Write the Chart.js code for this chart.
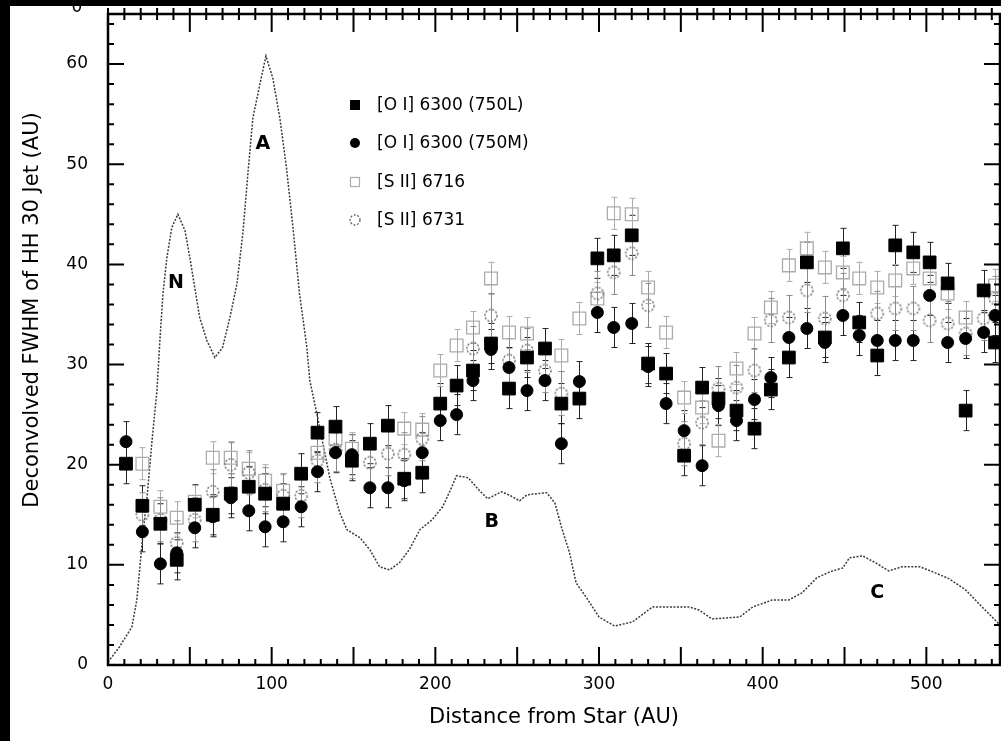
<!DOCTYPE html>
<html>
<head>
<meta charset="utf-8">
<script src="https://cdn.jsdelivr.net/npm/chart.js@4.4.0/dist/chart.umd.min.js"></script>
<style>
    html, body { margin: 0; padding: 0; background: #fff; }
    #wrap { width: 1001px; height: 741px; }
</style>
</head>
<body>
<div id="wrap"><canvas id="fwhm-chart" width="1001" height="741"></canvas></div>
<script>
// distance of each measured slit position (AU)
var distAU = [11, 21, 32, 42, 53, 64, 75, 86, 96, 107, 118, 128, 139, 149, 160, 171, 181, 192, 203, 213,
              223, 234, 245, 256, 267, 277, 288, 299, 309, 320, 330, 341, 352, 363, 373, 384, 395, 405, 416, 427,
              438, 449, 459, 470, 481, 492, 502, 513, 524, 535, 542];

var oi6300L = [20.1, 15.9, 14.1, 10.5, 16.0, 15.0, 17.1, 17.8, 17.1, 16.1, 19.1, 23.2, 23.8, 20.4, 22.1, 23.9, 18.6, 19.2, 26.1, 27.9,
               29.4, 32.1, 27.6, 30.7, 31.6, 26.1, 26.6, 40.6, 40.9, 42.9, 30.1, 29.1, 20.9, 27.7, 26.6, 25.4, 23.6, 27.5, 30.7, 40.2,
               32.7, 41.6, 34.2, 30.9, 41.9, 41.2, 40.2, 38.1, 25.4, 37.4, 32.2];

var oi6300M = [22.3, 13.3, 10.1, 11.2, 13.7, 14.8, 16.7, 15.4, 13.8, 14.3, 15.8, 19.3, 21.2, 21.0, 17.7, 17.7, 18.4, 21.2, 24.4, 25.0,
               28.4, 31.5, 29.7, 27.4, 28.4, 22.1, 28.3, 35.2, 33.7, 34.1, 29.8, 26.1, 23.4, 19.9, 25.9, 24.4, 26.5, 28.7, 32.7, 33.6,
               32.2, 34.9, 32.9, 32.4, 32.4, 32.4, 36.9, 32.2, 32.6, 33.2, 34.9];

var sii6716 = [null, 20.1, 15.8, 14.7, 16.3, 20.7, 20.7, 19.6, 18.4, 17.4, null, 21.2, 22.6, 21.6, null, null, 23.6, 23.5, 29.4, 31.9,
               33.7, 38.6, 33.2, 33.1, null, 30.9, 34.6, 36.6, 45.1, 45.0, 37.7, 33.2, 26.7, 25.7, 22.4, 29.6, 33.1, 35.7, 39.9, 41.6,
               39.7, 39.2, 38.6, 37.7, 38.4, 39.6, 38.6, 37.1, 34.7, null, 37.9];

var sii6731 = [null, 15.0, 14.5, 12.2, 14.5, 17.3, 20.0, 19.2, 17.5, 16.9, 16.9, 20.4, 21.5, 20.8, 20.2, 21.1, 21.0, 22.6, null, null,
               31.6, 34.9, 30.4, 31.4, 29.4, 27.1, null, 37.1, 39.2, 41.1, 35.9, null, 22.1, 24.2, 27.6, 27.7, 29.4, 34.4, 34.7, 37.4,
               34.6, 36.9, null, 35.1, 35.6, 35.6, 34.4, 34.1, 33.1, 34.6, 36.6];

// typical 1-sigma error of each line
var errL = 2.0, errM = 2.0, err6716 = 1.6, err6731 = 2.2;

// continuum-subtracted intensity profile (dotted curve)
var profX = [0, 7, 14.6, 17.6, 19.5, 21.4, 23.7, 26.9, 29.9, 31.7, 33.6, 36, 39, 42.7, 47, 50, 53, 56, 60.4, 65.3,
             70, 74.5, 78.8, 82.4, 85.5, 88.5, 92.8, 96.5, 100.7, 105, 109, 113, 117, 121.5, 123.3, 127.6, 130.6, 135.5, 141.6, 146,
             154, 160, 166, 172, 178, 184, 190.5, 198, 204.5, 209, 213, 220, 227, 232, 240.5, 246, 251.5, 256, 268, 273,
             277, 282, 286, 292, 300, 309.5, 320.5, 332.7, 345, 355, 361, 369, 386, 394, 406, 416, 424, 433, 441, 449,
             453, 461, 469, 477, 485, 496, 504, 514, 524, 534, 545];
var profY = [0.3, 1.8, 3.8, 6.5, 9.8, 13.2, 16.5, 22.4, 27.4, 32.4, 37.1, 40.7, 43.7, 45.0, 43.4, 40.7, 37.7, 34.7, 32.4, 30.7,
             31.7, 34.7, 38.1, 43.1, 49.1, 54.6, 58, 60.8, 58.6, 54.6, 49.7, 43.7, 37.1, 31.7, 28.4, 25.1, 22.7, 18.7, 15.2, 13.5,
             12.7, 11.5, 9.8, 9.5, 10.2, 11.5, 13.5, 14.5, 15.8, 17.4, 18.9, 18.7, 17.4, 16.6, 17.3, 16.9, 16.4, 17.0, 17.2, 16.2,
             13.8, 11.2, 8.2, 6.8, 4.8, 3.9, 4.3, 5.8, 5.8, 5.8, 5.5, 4.6, 4.8, 5.8, 6.5, 6.5, 7.2, 8.7, 9.3, 9.7,
             10.7, 10.9, 10.2, 9.4, 9.8, 9.8, 9.3, 8.6, 7.5, 5.8, 4.0];

var knotNames = ["N", "A", "B", "C"];
var knotX = [41.5, 94.6, 234.4, 470];
var knotY = [38.1, 52.0, 14.3, 7.2];

var xTicks = [0, 100, 200, 300, 400, 500];
var yTicks = [0, 10, 20, 30, 40, 50, 60];

var yTitle = "Deconvolved FWHM of HH 30 Jet (AU)";
var xTitle = "Distance from Star (AU)";

function toPoints(xs, ys) {
    var pts = [];
    for (var i = 0; i < xs.length; i++) {
        if (ys[i] !== null) pts.push({x: xs[i], y: ys[i]});
    }
    return pts;
}

// small dotted ring used as the [S II] 6731 marker
function dottedRing(r, color) {
    var c = document.createElement('canvas');
    var s = Math.ceil(r * 2 + 4);
    c.width = s; c.height = s;
    var g = c.getContext('2d');
    g.strokeStyle = color;
    g.lineWidth = 1.4;
    g.setLineDash([2, 1.6]);
    g.beginPath();
    g.arc(s / 2, s / 2, r, 0, Math.PI * 2);
    g.stroke();
    return c;
}

function noPad(scale) {
    scale.paddingTop = 0;
    scale.paddingBottom = 0;
    scale.paddingLeft = 0;
    scale.paddingRight = 0;
}

var fontName = "'DejaVu Sans', sans-serif";
var ringMark = dottedRing(6, '#6e6e6e');
var ringLegend = dottedRing(5, '#6e6e6e');

var plotDecor = {
    id: 'plotDecor',
    beforeDraw: function(chart) {
        var ctx = chart.ctx;
        ctx.save();
        ctx.fillStyle = '#000';
        ctx.fillRect(0, 0, 10, chart.height);
        ctx.fillRect(0, 0, chart.width, 6);
        // cut-off label of the panel above
        ctx.beginPath();
        ctx.rect(0, 6, chart.width, 20);
        ctx.clip();
        ctx.font = '17px ' + fontName;
        ctx.textAlign = 'center';
        ctx.textBaseline = 'middle';
        ctx.fillText("0", 77, 8);
        ctx.restore();
    },
    beforeDatasetsDraw: function(chart) {
        var ctx = chart.ctx;
        var area = chart.chartArea;
        var yScale = chart.scales.y;
        ctx.save();
        ctx.beginPath();
        ctx.rect(area.left, area.top, area.right - area.left, area.bottom - area.top);
        ctx.clip();
        chart.data.datasets.forEach(function(ds, i) {
            if (!ds.errBar) return;
            var meta = chart.getDatasetMeta(i);
            ctx.strokeStyle = ds.errColor;
            ctx.lineWidth = 1;
            meta.data.forEach(function(pt, j) {
                var v = ds.data[j].y;
                var top = yScale.getPixelForValue(v + ds.errBar);
                var bot = yScale.getPixelForValue(v - ds.errBar);
                var x = Math.round(pt.x) + 0.5;
                ctx.beginPath();
                ctx.moveTo(x, top);
                ctx.lineTo(x, bot);
                ctx.moveTo(x - 3, top);
                ctx.lineTo(x + 3, top);
                ctx.moveTo(x - 3, bot);
                ctx.lineTo(x + 3, bot);
                ctx.stroke();
            });
        });
        ctx.restore();
    },
    afterDraw: function(chart) {
        var ctx = chart.ctx;
        var a = chart.chartArea;
        var xs = chart.scales.x, ys = chart.scales.y;
        ctx.save();

        // frame
        ctx.strokeStyle = '#000';
        ctx.lineWidth = 2.5;
        ctx.strokeRect(a.left, a.top, a.right - a.left, a.bottom - a.top);

        // inward ticks
        ctx.lineWidth = 2;
        ctx.beginPath();
        for (var v = 0; v <= 64; v += 2) {
            var py = ys.getPixelForValue(v);
            var len = (v % 10 === 0) ? 16 : 6;
            ctx.moveTo(a.left, py); ctx.lineTo(a.left + len, py);
            ctx.moveTo(a.right, py); ctx.lineTo(a.right - len, py);
        }
        for (var u = 0; u <= 540; u += 10) {
            var px = xs.getPixelForValue(u);
            var l2 = (u % 50 === 0) ? 18 : 6;
            ctx.moveTo(px, a.bottom); ctx.lineTo(px, a.bottom - l2);
            ctx.moveTo(px, a.top); ctx.lineTo(px, a.top + l2);
            ctx.moveTo(px, a.top); ctx.lineTo(px, a.top - 6);
        }
        ctx.stroke();

        // y axis title
        ctx.fillStyle = '#000';
        ctx.save();
        ctx.translate(33, 310);
        ctx.rotate(-Math.PI / 2);
        ctx.font = '21px ' + fontName;
        ctx.textAlign = 'center';
        ctx.textBaseline = 'middle';
        ctx.fillText(yTitle, 0, 0);
        ctx.restore();

        // knot labels
        ctx.font = 'bold 19px ' + fontName;
        ctx.textAlign = 'center';
        ctx.textBaseline = 'middle';
        for (var k = 0; k < knotNames.length; k++) {
            ctx.fillText(knotNames[k], xs.getPixelForValue(knotX[k]), ys.getPixelForValue(knotY[k]));
        }

        // legend
        var rows = [105, 143, 182, 220];
        var sx = 355, tx = 377;
        ctx.font = '17px ' + fontName;
        ctx.textAlign = 'left';
        var items = chart.data.datasets.filter(function(d) { return d.errBar; });
        items.forEach(function(d, i) {
            var y = rows[i];
            ctx.lineWidth = 1.2;
            if (d.pointStyle === 'rect') {
                if (d.filled) { ctx.fillStyle = '#000'; ctx.fillRect(sx - 5, y - 5, 10, 10); }
                else { ctx.strokeStyle = d.borderColor; ctx.strokeRect(sx - 4.5, y - 4.5, 9, 9); }
            } else if (d.filled) {
                ctx.beginPath();
                ctx.arc(sx, y, 5, 0, Math.PI * 2);
                ctx.fillStyle = '#000';
                ctx.fill();
            } else {
                ctx.drawImage(ringLegend, sx - ringLegend.width / 2, y - ringLegend.height / 2);
            }
            ctx.fillStyle = '#000';
            ctx.fillText(d.label, tx, y + 1);
        });
        ctx.restore();
    }
};

var chartCanvas = document.getElementById("fwhm-chart");

var fwhmChart = new Chart(chartCanvas, {
    type: 'scatter',
    data: {
        datasets: [
            {
                label: "[O I] 6300 (750L)",
                data: toPoints(distAU, oi6300L),
                pointStyle: 'rect',
                pointRadius: 9,
                pointBackgroundColor: '#000',
                pointBorderColor: '#000',
                borderColor: '#000',
                pointBorderWidth: 1,
                filled: true,
                errBar: errL,
                errColor: '#222',
                order: 1
            },
            {
                label: "[O I] 6300 (750M)",
                data: toPoints(distAU, oi6300M),
                pointStyle: 'circle',
                pointRadius: 6,
                pointBackgroundColor: '#000',
                pointBorderColor: '#000',
                borderColor: '#000',
                pointBorderWidth: 1,
                filled: true,
                errBar: errM,
                errColor: '#222',
                order: 2
            },
            {
                label: "[S II] 6716",
                data: toPoints(distAU, sii6716),
                pointStyle: 'rect',
                pointRadius: 9,
                pointBackgroundColor: 'rgba(0,0,0,0)',
                pointBorderColor: '#acacac',
                borderColor: '#acacac',
                pointBorderWidth: 1.3,
                filled: false,
                errBar: err6716,
                errColor: '#acacac',
                order: 4
            },
            {
                label: "[S II] 6731",
                data: toPoints(distAU, sii6731),
                pointStyle: ringMark,
                pointRadius: 6,
                borderColor: '#6e6e6e',
                filled: false,
                errBar: err6731,
                errColor: '#8a8a8a',
                order: 3
            },
            {
                type: 'line',
                label: "profile",
                data: toPoints(profX, profY),
                borderColor: '#3a3a3a',
                borderWidth: 1.5,
                borderDash: [2, 1.5],
                pointRadius: 0,
                tension: 0,
                fill: false,
                order: 5
            }
        ]
    },
    options: {
        responsive: false,
        animation: false,
        devicePixelRatio: 1,
        layout: { autoPadding: false, padding: { left: 0, right: 1, top: 14, bottom: 0 } },
        plugins: {
            legend: { display: false },
            tooltip: { enabled: false }
        },
        scales: {
            x: {
                type: 'linear',
                min: 0,
                max: 545,
                afterFit: function(scale) { scale.height = 76; noPad(scale); },
                afterBuildTicks: function(scale) {
                    scale.ticks = xTicks.map(function(v) { return {value: v}; });
                },
                grid: { display: false, drawTicks: false },
                border: { display: false },
                ticks: {
                    padding: 9,
                    color: '#000',
                    font: { family: fontName, size: 17 }
                },
                title: {
                    display: true,
                    text: xTitle,
                    color: '#000',
                    font: { family: fontName, size: 21 },
                    padding: { top: 0, bottom: 11 }
                }
            },
            y: {
                type: 'linear',
                min: 0,
                max: 65,
                afterFit: function(scale) { scale.width = 108; noPad(scale); },
                afterBuildTicks: function(scale) {
                    scale.ticks = yTicks.map(function(v) { return {value: v}; });
                },
                grid: { display: false, drawTicks: false },
                border: { display: false },
                ticks: {
                    padding: 20,
                    color: '#000',
                    font: { family: fontName, size: 17 }
                },
                title: { display: false }
            }
        }
    },
    plugins: [plotDecor]
});
</script>
</body>
</html>
